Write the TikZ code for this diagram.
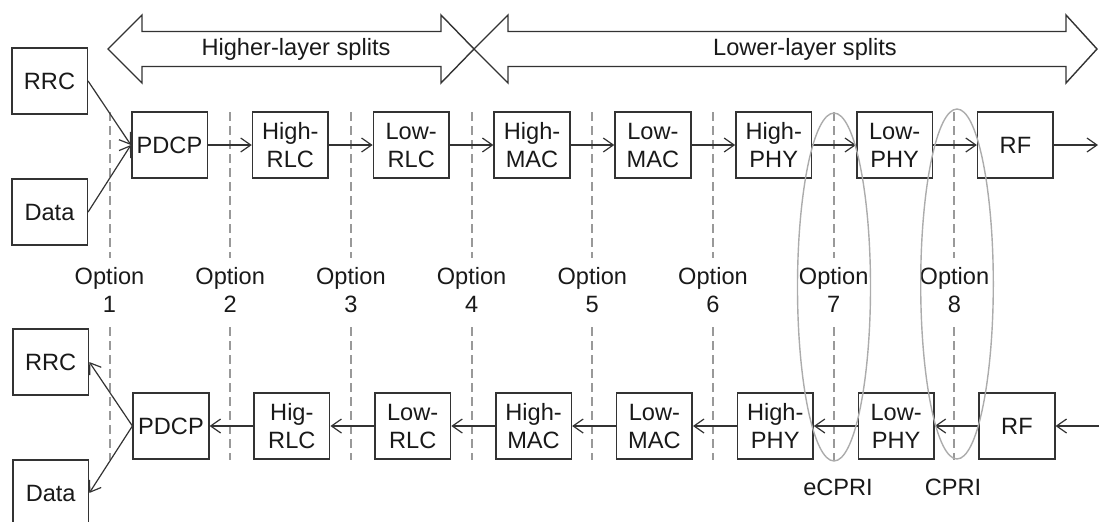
\documentclass[tikz,border=0pt]{standalone}
\usepackage{fontspec}
\setmainfont{Liberation Sans}
\usepackage{tikz}
\usetikzlibrary{arrows.meta}
\definecolor{ink}{gray}{0.2}
\tikzset{
  blk/.style      = {draw=ink, line width=0.8pt, minimum width=37.8pt,
                     minimum height=33pt, inner sep=0pt, align=center,
                     font=\fontsize{11.8}{14}\selectfont, text=black!90},
  lnk/.style      = {-{Straight Barb[length=5pt,width=7pt]}, ink, line width=0.6pt},
  cut/.style      = {gray!80, line width=1pt, dash pattern=on 4.5pt off 2.5pt},
  fatarrow/.style = {draw=ink, line width=0.7pt, line join=miter},
  lbl/.style      = {font=\fontsize{11.8}{14}\selectfont, text=black!90, align=center}
}

\begin{document}
\begin{tikzpicture}[x=0.5pt,y=-0.5pt]
  \useasboundingbox (0,0) rectangle (1099,521);
  % split ranges
  \draw[fatarrow] (108,49) -- (142,15) -- (142,31.5) -- (441,31.5) -- (441,15) -- (474,49)
        -- (441,83) -- (441,66.5) -- (142,66.5) -- (142,83) -- cycle;
  \draw[fatarrow] (474,49) -- (508,15) -- (508,31.5) -- (1066,31.5) -- (1066,15) -- (1097,49)
        -- (1066,83) -- (1066,66.5) -- (508,66.5) -- (508,83) -- cycle;
  \node[lbl] (hls) at (296,49) {Higher-layer splits};
  \node[lbl] (lls) at (805,49) {Lower-layer splits};
  % split options
  \foreach \i in {1,...,8} {
    \draw[cut] ({109.5+120.7*(\i-1)},112) -- ++(0,146);
    \draw[cut] ({109.5+120.7*(\i-1)},327) -- ++(0,133);
    \node[lbl] (opt\i) at ({109.5+120.7*(\i-1)},290) {Option\\\i};
  }
  % downlink chain
  \node[blk] (rrcU) at (49.5,81)  {RRC};
  \node[blk] (datU) at (49.5,212) {Data};
  \foreach \t [count=\i] in {PDCP,{High-\\RLC},{Low-\\RLC},{High-\\MAC},
                             {Low-\\MAC},{High-\\PHY},{Low-\\PHY},RF}
    \node[blk] (up\i) at ({169.5+120.85*(\i-1)},145) {\t};
  \draw[lnk] (rrcU.east) -- (up1.west);
  \draw[lnk] (datU.east) -- (up1.west);
  \foreach \i [remember=\i as \p (initially 1)] in {2,...,8}
    \draw[lnk] (up\p) -- (up\i);
  \coordinate (out) at (1098,145);
  \draw[lnk] (up8) -- (out);
  % uplink chain
  \node[blk] (rrcD) at (50.7,362) {RRC};
  \node[blk] (datD) at (50.7,493) {Data};
  \foreach \t [count=\i] in {PDCP,{Hig-\\RLC},{Low-\\RLC},{High-\\MAC},
                             {Low-\\MAC},{High-\\PHY},{Low-\\PHY},RF}
    \node[blk] (dn\i) at ({171+120.85*(\i-1)},426) {\t};
  \draw[lnk] (dn1.west) -- (rrcD.east);
  \draw[lnk] (dn1.west) -- (datD.east);
  \foreach \i [remember=\i as \p (initially 1)] in {2,...,8}
    \draw[lnk] (dn\i) -- (dn\p);
  \coordinate (in) at (1099,426);
  \draw[lnk] (in) -- (dn8);
  % fronthaul interfaces
  \draw[gray!65, line width=0.7pt] (834,287) ellipse [x radius=18.25pt, y radius=87pt];
  \draw[gray!65, line width=0.7pt] (957,284) ellipse [x radius=18.15pt, y radius=87.5pt];
  \node[lbl] (ecpri) at (838,487) {eCPRI};
  \node[lbl] (cpri)  at (953,487) {CPRI};
\end{tikzpicture}
\end{document}
